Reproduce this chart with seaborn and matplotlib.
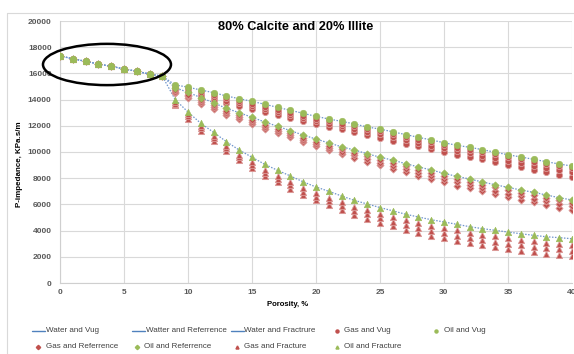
import matplotlib
matplotlib.use("Agg")
import matplotlib.pyplot as plt
from matplotlib.patches import Ellipse
from matplotlib.lines import Line2D
import seaborn as sns
import pandas as pd

# Porosity steps (%) and the trend shared by every fluid/pore case up to 8 %
porosity = list(range(41))
shared_start = [17330, 17120, 16920, 16720, 16540, 16340, 16160, 15950, 15780]

# P-impedance (KPa.s/m) for porosity 9..40 %
oil_vug = [15120, 14950, 14730, 14530, 14275, 14070, 13870, 13640, 13410, 13180,
           12950, 12720, 12520, 12340, 12140, 11910, 11750, 11540, 11330, 11120,
           10920, 10710, 10510, 10360, 10180, 9980, 9790, 9620, 9440, 9260, 9080, 8930]
oil_ref = [14900, 14560, 14150, 13760, 13330, 13000, 12650, 12290, 11960, 11630,
           11290, 10990, 10690, 10400, 10150, 9870, 9600, 9380, 9110, 8860,
           8630, 8370, 8140, 7940, 7710, 7500, 7300, 7100, 6920, 6720, 6510, 6340]
oil_frac = [14000, 13050, 12190, 11500, 10790, 10150, 9600, 9060, 8600, 8170,
            7720, 7330, 7000, 6640, 6310, 6030, 5760, 5510, 5250, 5040,
            4830, 4660, 4480, 4300, 4150, 4020, 3890, 3760, 3640, 3530, 3460, 3380]

# Water-saturated trends follow the oil points
water_vug = oil_vug
water_ref = oil_ref
water_frac = oil_frac

# Gas cases: three saturation levels per pore type (high, mid, low impedance)
gas_vug_hi = [14950, 14780, 14560, 14360, 14100, 13900, 13700, 13470, 13240, 13010,
              12780, 12550, 12350, 12170, 11970, 11740, 11580, 11370, 11160, 10950,
              10750, 10540, 10340, 10190, 10010, 9810, 9620, 9450, 9270, 9090, 8910, 8760]
gas_vug_mid = [14780, 14600, 14380, 14180, 13920, 13720, 13510, 13280, 13050, 12820,
               12590, 12360, 12150, 11960, 11750, 11510, 11340, 11120, 10900, 10690,
               10480, 10270, 10060, 9910, 9720, 9520, 9320, 9150, 8960, 8780, 8590, 8440]
gas_vug_lo = [14600, 14420, 14200, 13990, 13740, 13530, 13320, 13090, 12860, 12630,
              12400, 12160, 11940, 11740, 11530, 11280, 11100, 10870, 10640, 10420,
              10210, 9990, 9780, 9620, 9430, 9220, 9020, 8840, 8650, 8460, 8270, 8110]

gas_ref_hi = [14700, 14360, 13950, 13560, 13130, 12800, 12450, 12090, 11760, 11430,
              11090, 10790, 10490, 10200, 9950, 9670, 9400, 9180, 8910, 8660,
              8430, 8170, 7940, 7740, 7510, 7300, 7100, 6900, 6720, 6520, 6310, 6140]
gas_ref_mid = [14590, 14240, 13830, 13430, 13000, 12660, 12310, 11940, 11610, 11280,
               10940, 10630, 10320, 10020, 9760, 9470, 9190, 8960, 8680, 8430,
               8190, 7930, 7690, 7490, 7250, 7040, 6830, 6630, 6450, 6250, 6030, 5860]
gas_ref_lo = [14480, 14120, 13700, 13300, 12860, 12520, 12160, 11790, 11460, 11120,
              10780, 10460, 10140, 9830, 9560, 9260, 8970, 8730, 8450, 8190,
              7950, 7680, 7440, 7230, 6990, 6770, 6560, 6360, 6170, 5970, 5750, 5570]

gas_frac_hi = [13850, 12900, 11990, 11250, 10490, 9800, 9200, 8630, 8140, 7690,
               7230, 6840, 6510, 6160, 5830, 5560, 5290, 5050, 4790, 4580,
               4370, 4200, 4020, 3840, 3680, 3550, 3420, 3290, 3170, 3050, 2980, 2900]
gas_frac_mid = [13700, 12730, 11800, 11050, 10280, 9590, 8980, 8410, 7910, 7450,
                6980, 6570, 6230, 5860, 5520, 5230, 4950, 4690, 4420, 4200,
                3980, 3810, 3620, 3440, 3280, 3140, 3010, 2880, 2760, 2640, 2570, 2480]
gas_frac_lo = [13550, 12550, 11610, 10850, 10070, 9370, 8760, 8180, 7680, 7210,
               6720, 6300, 5940, 5550, 5200, 4890, 4600, 4320, 4040, 3810,
               3590, 3410, 3220, 3030, 2870, 2730, 2600, 2460, 2340, 2220, 2150, 2060]

x_ticks = [0, 5, 10, 15, 20, 25, 30, 35, 40]
y_ticks = [0, 2000, 4000, 6000, 8000, 10000, 12000, 14000, 16000, 18000, 20000]

legend_labels = ["Water and Vug", "Watter and Referrence", "Water and Fractrure",
                 "Gas and Vug", "Oil and Vug", "Gas and Referrence", "Oil and Referrence",
                 "Gas and Fracture", "Oil and Fracture"]

BLUE = "#6f95cc"
RED = "#c0504d"
GREEN = "#9bbb59"
GRID = "#d9d9d9"
TXT = "#595959"

sns.set_theme(style="white")
plt.rcParams["font.family"] = ["Liberation Sans", "DejaVu Sans"]


def series(branch):
    return pd.DataFrame({"porosity": porosity, "imp": shared_start + list(branch)})


fig = plt.figure(figsize=(5.74, 3.54), dpi=100)
ax = fig.add_axes([60 / 574, 1 - 283 / 354, 512 / 574, 262 / 354])

# Water trends (dotted)
for w in (water_vug, water_ref, water_frac):
    sns.lineplot(data=series(w), x="porosity", y="imp", ax=ax, color=BLUE,
                 lw=0.9, linestyle=(0, (1.2, 1.2)), legend=False, zorder=2)

# Gas points
gas_sets = [((gas_vug_lo, gas_vug_mid, gas_vug_hi), "o", 20),
            ((gas_ref_lo, gas_ref_mid, gas_ref_hi), "D", 13),
            ((gas_frac_lo, gas_frac_mid, gas_frac_hi), "^", 20)]
for arrays, mk, s in gas_sets:
    for arr in arrays:
        sns.scatterplot(data=series(arr), x="porosity", y="imp", ax=ax, marker=mk,
                        s=s, color=RED, edgecolor="#dc9c9a", linewidth=0.6,
                        legend=False, zorder=3)

# Oil points
for arr, mk, s in ((oil_vug, "o", 22), (oil_ref, "D", 14), (oil_frac, "^", 22)):
    sns.scatterplot(data=series(arr), x="porosity", y="imp", ax=ax, marker=mk,
                    s=s, color=GREEN, edgecolor=GREEN, linewidth=0.4,
                    legend=False, zorder=4)

ax.set_xlim(0, 40)
ax.set_ylim(0, 20000)
ax.set_xticks(x_ticks)
ax.set_yticks(y_ticks)
ax.set_xticklabels([str(t) for t in x_ticks])
ax.set_yticklabels([str(t) for t in y_ticks])
ax.tick_params(axis="both", length=0, labelsize=6, colors=TXT)
ax.tick_params(axis="y", pad=6)
ax.tick_params(axis="x", pad=4)
for lab in ax.get_xticklabels() + ax.get_yticklabels():
    lab.set_fontweight("bold")
ax.grid(True, color=GRID, lw=0.8)
ax.set_axisbelow(True)
for side in ("top", "right"):
    ax.spines[side].set_visible(False)
for side in ("left", "bottom"):
    ax.spines[side].set_color("#cfcfcf")
    ax.spines[side].set_linewidth(0.8)
ax.set_xlabel("")
ax.set_ylabel("")

# Highlight of the common low-porosity trend
ax.add_patch(Ellipse((3.67, 16680), width=10.0, height=3150, fill=False,
                     edgecolor="black", lw=1.8, clip_on=False, zorder=5))

# Chart frame
fig.add_artist(Line2D([7 / 574, 1], [1 - 13 / 354, 1 - 13 / 354],
                      transform=fig.transFigure, color=GRID, lw=0.8))
fig.add_artist(Line2D([7 / 574, 7 / 574], [0, 1 - 13 / 354],
                      transform=fig.transFigure, color=GRID, lw=0.8))

fig.text(295.5 / 574, 1 - 26.7 / 354, "80% Calcite and 20% Illite", ha="center",
         va="center", fontsize=9.2, fontweight="bold", color="black")
fig.text(287.5 / 574, 1 - 304 / 354, "Porosity, %", ha="center", va="center",
         fontsize=5.6, fontweight="bold", color="black")
fig.text(20 / 574, 1 - 164 / 354, "P-impedance, KPa.s/m", ha="center", va="center",
         rotation=90, fontsize=5.8, fontweight="bold", color="black")

# Legend, laid out in two rows
def fx(px):
    return px / 574


def fy(py):
    return 1 - py / 354


row1, row2 = 331, 347
line_entries = [(32, row1, legend_labels[0]), (132, row1, legend_labels[1]),
                (231, row1, legend_labels[2])]
for x0, yy, lab in line_entries:
    fig.add_artist(Line2D([fx(x0), fx(x0 + 13)], [fy(yy), fy(yy)],
                          transform=fig.transFigure, color="#4f81bd", lw=1.0))
    fig.text(fx(x0 + 13.5), fy(yy), lab, ha="left", va="center", fontsize=5.8,
             color="#404040")

marker_entries = [(337, row1, "o", RED, legend_labels[3]),
                  (436, row1, "o", GREEN, legend_labels[4]),
                  (38, row2, "D", RED, legend_labels[5]),
                  (137, row2, "D", GREEN, legend_labels[6]),
                  (237, row2, "^", RED, legend_labels[7]),
                  (337, row2, "^", GREEN, legend_labels[8])]
for x0, yy, mk, col, lab in marker_entries:
    fig.add_artist(Line2D([fx(x0)], [fy(yy)], transform=fig.transFigure,
                          marker=mk, markersize=2.2, color=col, lw=0))
    fig.text(fx(x0 + 7.5), fy(yy), lab, ha="left", va="center", fontsize=5.8,
             color="#404040")

fig.savefig("out.png", dpi=100)
